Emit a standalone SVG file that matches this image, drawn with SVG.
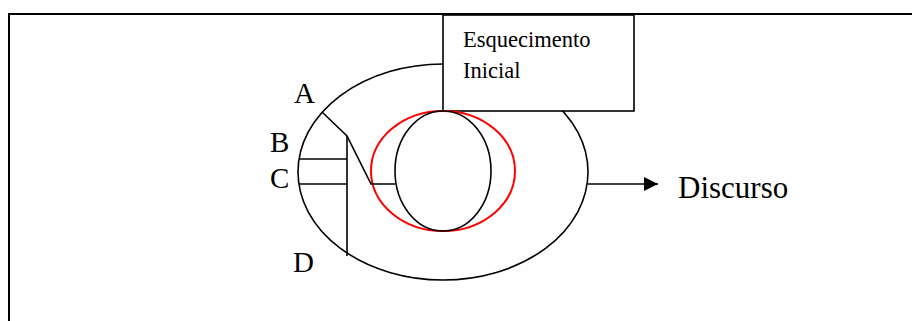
<svg xmlns="http://www.w3.org/2000/svg" width="912" height="321" viewBox="0 0 912 321">
<defs>
<style>
.ln{fill:none;stroke:#000;stroke-width:1.6}
.lbl{font-family:"Liberation Serif","Times New Roman",serif;fill:#000}
</style>
<marker id="ah" viewBox="0 0 14 14" refX="14" refY="7" markerWidth="14" markerHeight="14" markerUnits="userSpaceOnUse" orient="auto">
<path d="M0,0 L14,7 L0,14 Z" fill="#000"/>
</marker>
</defs>
<rect width="912" height="321" fill="#fff"/>
<g id="frame">
<path d="M9,321 L9,14 L912,14" fill="none" stroke="#000" stroke-width="2"/>
</g>
<g id="outer">
<ellipse class="ln" cx="443" cy="172" rx="145" ry="108"/>
</g>
<g id="box">
<rect x="443" y="15" width="191" height="96" fill="#fff" stroke="#000" stroke-width="1.6"/>
<text class="lbl" x="463" y="47" font-size="22.5">Esquecimento</text>
<text class="lbl" x="463" y="78" font-size="22.5">Inicial</text>
</g>
<g id="red">
<ellipse cx="443" cy="171" rx="72" ry="60" fill="none" stroke="#f00" stroke-width="2"/>
</g>
<g id="inner">
<ellipse class="ln" cx="443" cy="171" rx="48" ry="60"/>
</g>
<g id="connectors">
<polyline class="ln" points="322,112 347,136 371,184 395,184"/>
<line class="ln" x1="347" y1="136" x2="347" y2="256"/>
<line class="ln" x1="299" y1="159" x2="347" y2="159"/>
<line class="ln" x1="299" y1="184" x2="347" y2="184"/>
<line class="ln" x1="588" y1="184" x2="658" y2="184" marker-end="url(#ah)"/>
</g>
<g id="labels">
<text class="lbl" x="294" y="103" font-size="29">A</text>
<text class="lbl" x="270" y="152" font-size="29">B</text>
<text class="lbl" x="270" y="188" font-size="29">C</text>
<text class="lbl" x="293" y="272" font-size="29">D</text>
<text class="lbl" x="678" y="198" font-size="31">Discurso</text>
</g>
</svg>
